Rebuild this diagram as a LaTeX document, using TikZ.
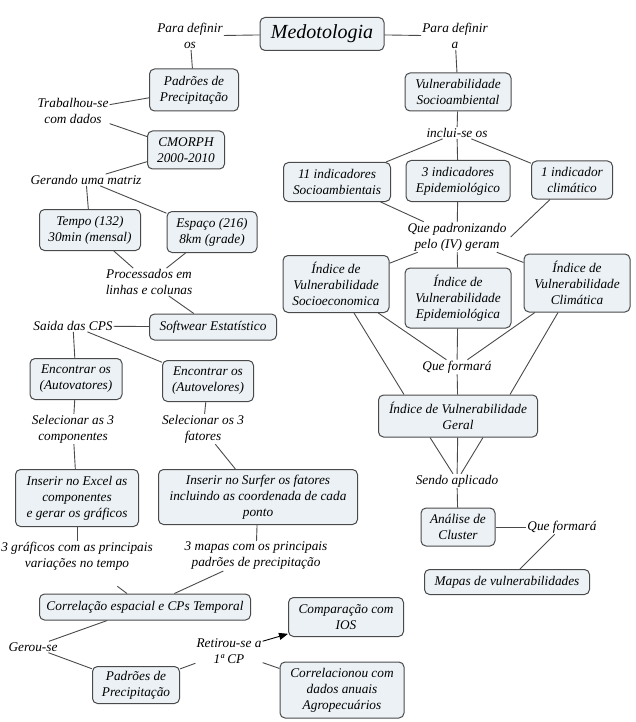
\documentclass[tikz,border=0pt]{standalone}
\usepackage{fontspec}
\setmainfont{Liberation Serif}
\usetikzlibrary{arrows.meta}
\definecolor{caixa}{HTML}{EBF1F4}
\definecolor{traco}{HTML}{4A4A4A}

\begin{document}
\begin{tikzpicture}[x=1pt,y=-1pt,font=\fontsize{13.3}{16}\selectfont\itshape]
      \useasboundingbox (0,0) rectangle (636,722);
      \begin{scope}[every node/.style={draw=traco,line width=1pt,fill=caixa,rounded corners=5pt,align=center,inner sep=2pt}]
        \node (med) [minimum width=124,minimum height=33,font=\fontsize{20}{24}\selectfont\itshape] at (322,34) {Medotologia};
        \node (padA) [minimum width=89,minimum height=42] at (194,90) {Padrões de\\Precipitação};
        \node (vulS) [minimum width=106,minimum height=38] at (458,92) {Vulnerabilidade\\Socioambiental};
        \node (cmorph) [minimum width=77,minimum height=38] at (186,150) {CMORPH\\2000-2010};
        \node (tempo) [minimum width=101,minimum height=41] at (90,230) {Tempo (132)\\30min (mensal)};
        \node (espaco) [minimum width=90,minimum height=41] at (212,232) {Espaço (216)\\8km (grade)};
        \node (soft) [minimum width=127,minimum height=26] at (213,327) {Softwear Estatístico};
        \node (autoA) [minimum width=92,minimum height=41] at (76,379) {Encontrar os\\(Autovatores)};
        \node (autoB) [minimum width=91,minimum height=41] at (208,381) {Encontrar os\\(Autovelores)};
        \node (excel) [minimum width=123,minimum height=57] at (77,498) {Inserir no Excel as\\componentes\\e gerar os gráficos};
        \node (surfer) [minimum width=199,minimum height=55] at (258,497) {Inserir no Surfer os fatores\\incluindo as coordenada de cada\\ponto};
        \node (correl) [minimum width=211,minimum height=26] at (145,607) {Correlação espacial e CPs Temporal};
        \node (padB) [minimum width=87,minimum height=37] at (136,685) {Padrões de\\Precipitação};
        \node (ios) [minimum width=115,minimum height=39] at (346,617) {Comparação com\\IOS};
        \node (agro) [minimum width=124,minimum height=56] at (342,690) {Correlacionou com\\dados anuais\\Agropecuários};
        \node (ind11) [minimum width=107,minimum height=39] at (337,182) {11 indicadores\\Socioambientais};
        \node (ind3) [minimum width=104,minimum height=41] at (458,181) {3 indicadores\\Epidemiológico};
        \node (ind1) [minimum width=81,minimum height=38] at (572,180) {1 indicador\\climático};
        \node (ivSE) [minimum width=106,minimum height=57] at (336,284) {Índice de\\Vulnerabilidade\\Socioeconomica};
        \node (ivEp) [minimum width=106,minimum height=60] at (458,298) {Índice de\\Vulnerabilidade\\Epidemiológica};
        \node (ivCl) [minimum width=106,minimum height=58] at (577,283) {Índice de\\Vulnerabilidade\\Climática};
        \node (ivG) [minimum width=159,minimum height=42] at (458,416) {Índice de Vulnerabilidade\\Geral};
        \node (cluster) [minimum width=74,minimum height=38] at (458,527) {Análise de\\Cluster};
        \node (mapas) [minimum width=165,minimum height=25] at (507,582) {Mapas de vulnerabilidades};
      \end{scope}
      \begin{scope}[every node/.style={align=center,inner sep=1pt}]
        \node (paraA) at (190,36) {Para definir\\os};
        \node (paraB) at (455,36) {Para definir\\a};
        \node (trab) at (73,111) {Trabalhou-se\\com dados};
        \node (gerando) at (86,180) {Gerando uma matriz};
        \node (proc) at (149,282) {Processados em\\linhas e colunas};
        \node (saida) at (73,326) {Saida das CPS};
        \node (selA) at (73,429) {Selecionar as 3\\componentes};
        \node (selB) at (203,429) {Selecionar os 3\\fatores};
        \node (graf) at (77,556) {3 gráficos com as principais\\variações no tempo};
        \node (mapasP) at (256,556) {3 mapas com os principais\\padrões de precipitação};
        \node (gerou) at (33,647) {Gerou-se};
        \node (retirou) at (229,651) {Retirou-se a\\1ª CP};
        \node (inclui) at (457,133) {inclui-se os};
        \node (padron) at (457,237) {Que padronizando\\pelo (IV) geram};
        \node (formaA) at (457,367) {Que formará};
        \node (sendo) at (457,481) {Sendo aplicado};
        \node (formaB) at (562,527) {Que formará};
      \end{scope}
      \begin{scope}[every edge/.style={draw=traco,line width=0.9pt}]
        \path (paraA) edge (med);
        \path (paraA) edge (padA);
        \path (med) edge (paraB);
        \path (paraB) edge (vulS);
        \path (trab) edge (padA);
        \path (trab) edge (cmorph);
        \path (cmorph) edge (gerando);
        \path (gerando) edge (tempo);
        \path (gerando) edge (espaco);
        \path (tempo) edge (proc);
        \path (espaco) edge (proc);
        \path (proc) edge (soft);
        \path (saida) edge (soft);
        \path (saida) edge (autoA);
        \path (saida) edge (autoB);
        \path (autoA) edge (selA);
        \path (autoB) edge (selB);
        \path (selA) edge (excel);
        \path (selB) edge (surfer);
        \path (excel) edge (graf);
        \path (surfer) edge (mapasP);
        \path (graf) edge[shorten <=25pt] (correl);
        \path (mapasP) edge (correl);
        \path (correl) edge (gerou);
        \path (gerou) edge (padB);
        \path (padB) edge (retirou);
        \path (retirou) edge[draw=black,-{Triangle[length=9pt,width=7pt]}] (ios);
        \path (retirou) edge (agro);
        \path (vulS) edge (inclui);
        \path (inclui) edge (ind11);
        \path (inclui) edge (ind3);
        \path (inclui) edge (ind1);
        \path (ind11) edge (padron);
        \path (ind3) edge (padron);
        \path ([xshift=-22pt]ind1.south) edge ([xshift=3pt]padron.east);
        \path (padron) edge (ivSE);
        \path (padron) edge (ivEp);
        \path (padron) edge (ivCl);
        \path (ivSE) edge (formaA);
        \path ([xshift=18pt]ivSE.south) edge ([xshift=-54pt]ivG.north);
        \path (ivEp) edge (formaA);
        \path (ivCl) edge (formaA);
        \path ([xshift=-19pt]ivCl.south) edge ([xshift=52pt]ivG.north);
        \path (formaA) edge (ivG);
        \path ([xshift=-28pt]ivG.south) edge ([xshift=-4pt]sendo.north);
        \path (ivG) edge (sendo);
        \path ([xshift=25pt]ivG.south) edge ([xshift=4pt]sendo.north);
        \path (sendo) edge (cluster);
        \path (cluster) edge (formaB);
        \path (formaB) edge (mapas);
      \end{scope}
    \end{tikzpicture}
\end{document}
